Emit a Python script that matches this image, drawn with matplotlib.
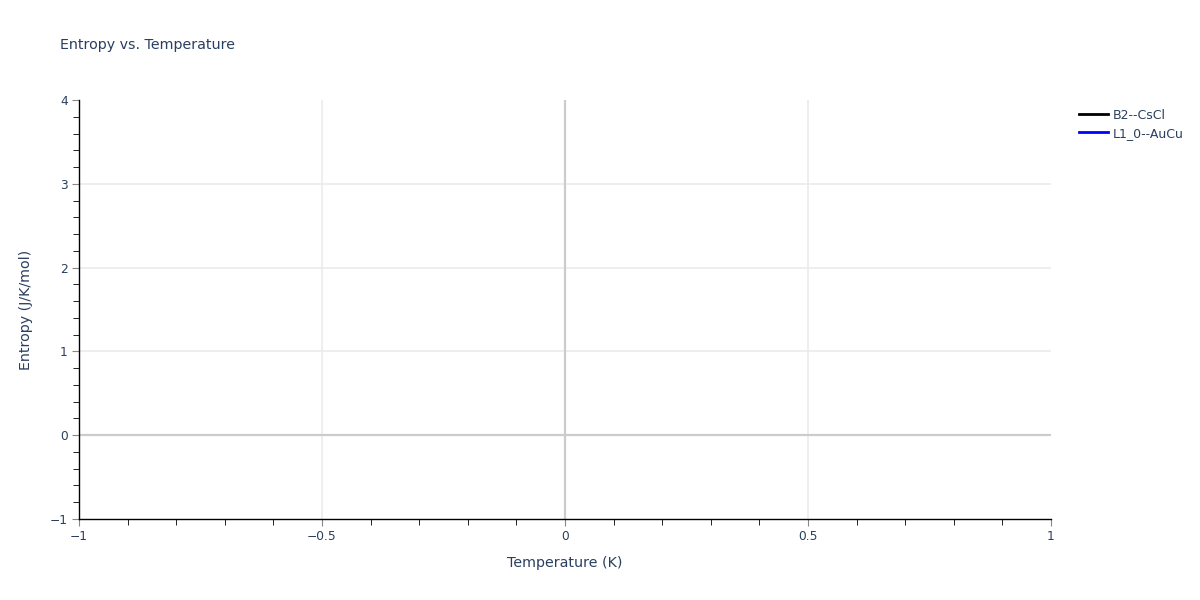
import matplotlib
matplotlib.use('Agg')
import matplotlib.pyplot as plt
from matplotlib.ticker import MultipleLocator, FuncFormatter

# data (the reference chart has no points plotted)
series_names = ['B2--CsCl', 'L1_0--AuCu']
series_colors = ['#000000', '#0000ff']
temps_b2 = []
entropy_b2 = []
temps_l10 = []
entropy_l10 = []

TXT = '#2a3f5f'
plt.rcParams['font.family'] = ['DejaVu Sans']

fig = plt.figure(figsize=(12, 6), dpi=100)
ax = fig.add_axes([79/1200, 1 - 519/600, (1051 - 79)/1200, (519 - 100)/600])

ax.plot(temps_b2, entropy_b2, color=series_colors[0], lw=2, label=series_names[0])
ax.plot(temps_l10, entropy_l10, color=series_colors[1], lw=2, label=series_names[1])

ax.set_xlim(-1, 1)
ax.set_ylim(-1, 4)
ax.xaxis.set_major_locator(MultipleLocator(0.5))
ax.xaxis.set_minor_locator(MultipleLocator(0.1))
ax.yaxis.set_major_locator(MultipleLocator(1))
ax.yaxis.set_minor_locator(MultipleLocator(0.2))
fmt = FuncFormatter(lambda v, p: f'{v:g}'.replace('-', '\u2212'))
ax.xaxis.set_major_formatter(fmt)
ax.yaxis.set_major_formatter(fmt)

ax.grid(True, which='major', color='#ebebeb', lw=1.2)
ax.axhline(0, color='#cccccc', lw=1.6, zorder=1)
ax.axvline(0, color='#cccccc', lw=1.6, zorder=1)
ax.set_axisbelow(True)

# no grid lines along the plot edges
fig.canvas.draw()
for tick in ax.xaxis.get_major_ticks():
    if tick.get_loc() in ax.get_xlim():
        tick.gridline.set_visible(False)
for tick in ax.yaxis.get_major_ticks():
    if tick.get_loc() in ax.get_ylim():
        tick.gridline.set_visible(False)

for s in ['top', 'right']:
    ax.spines[s].set_visible(False)
for s in ['left', 'bottom']:
    ax.spines[s].set_color('black')
    ax.spines[s].set_linewidth(1)

ax.tick_params(which='major', direction='out', length=5, color='#888888',
               labelsize=8.8, labelcolor=TXT, pad=3)
ax.tick_params(which='minor', direction='out', length=4, color='black')

ax.set_xlabel('Temperature (K)', fontsize=10.3, color=TXT, labelpad=9)
ax.set_ylabel('Entropy (J/K/mol)', fontsize=10.3, color=TXT, labelpad=12)

fig.text(60/1200, 1 - 45/600, 'Entropy vs. Temperature', fontsize=10.3,
         color=TXT, va='center', ha='left')

leg = ax.legend(loc='upper left', bbox_to_anchor=(1.02, 1.0), frameon=False,
                fontsize=9, handlelength=2.3, handletextpad=0.4,
                borderaxespad=0.3, labelspacing=0.4)
for t in leg.get_texts():
    t.set_color(TXT)

fig.savefig('out.png', dpi=100, facecolor='white')
